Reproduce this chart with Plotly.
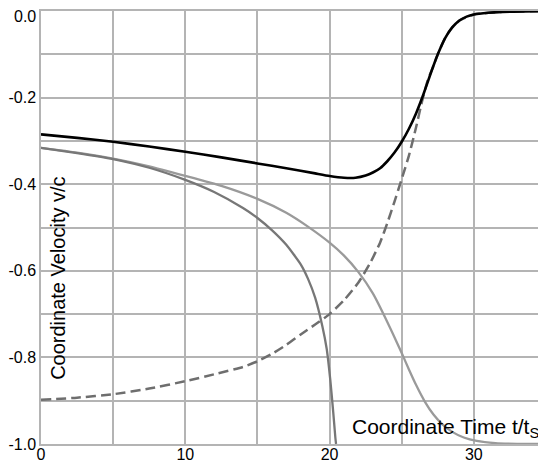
import plotly.graph_objects as go

# ---- data ----
black_t = [0, 2.5, 5, 7.5, 10, 12.5, 15, 17, 19, 20, 21, 21.8, 22.5, 23, 23.5, 24, 24.5, 25, 25.5,
           26, 26.5, 27, 27.5, 28, 28.5, 29, 29.5, 30, 31, 32, 33.5, 35]
black_v = [-0.285, -0.293, -0.302, -0.313, -0.325, -0.338, -0.352, -0.363, -0.375, -0.381, -0.385,
           -0.385, -0.380, -0.373, -0.363, -0.347, -0.327, -0.302, -0.272, -0.236, -0.193, -0.145,
           -0.100, -0.063, -0.038, -0.022, -0.013, -0.008, -0.004, -0.002, -0.001, -0.0005]

dash_t = [0, 2.5, 5, 7.5, 10, 12, 14, 15, 16, 17, 18, 19, 20, 21, 22, 22.8, 23.5, 24, 24.5, 25,
          25.5, 26, 26.4, 26.8, 27.2, 27.5, 28, 28.5, 29, 30, 32, 35]
dash_v = [-0.898, -0.893, -0.885, -0.872, -0.855, -0.839, -0.822, -0.809, -0.792, -0.771, -0.747,
          -0.724, -0.700, -0.668, -0.627, -0.583, -0.535, -0.490, -0.440, -0.388, -0.334, -0.268,
          -0.210, -0.160, -0.127, -0.100, -0.063, -0.038, -0.022, -0.008, -0.002, -0.0005]

dark_t = [0, 2.5, 5, 7.5, 10, 12, 14, 15, 16, 17, 18, 18.5, 19, 19.5, 19.8, 20.05, 20.25, 20.4,
          20.45]
dark_v = [-0.316, -0.328, -0.342, -0.362, -0.390, -0.418, -0.455, -0.478, -0.506, -0.540, -0.585,
          -0.618, -0.662, -0.728, -0.780, -0.852, -0.925, -0.985, -1.0]

light_t = [0, 2.5, 5, 7.5, 10, 12.5, 15, 17, 18.5, 20, 21, 22, 23, 24, 25, 25.5, 26, 26.6, 27.2,
           27.8, 28.5, 29.3, 30.2, 31.5, 33, 35]
light_v = [-0.316, -0.327, -0.341, -0.359, -0.381, -0.404, -0.434, -0.466, -0.498, -0.535, -0.565,
           -0.603, -0.652, -0.718, -0.790, -0.828, -0.864, -0.902, -0.932, -0.954, -0.972, -0.985,
           -0.993, -0.998, -0.9995, -1.0]

x_tickvals = [0, 10, 20, 30]
x_ticktext = ["0", "10", "20", "30"]
y_tickvals = [-1.0, -0.8, -0.6, -0.4, -0.2]
y_ticktext = ["-1.0", "-0.8", "-0.6", "-0.4", "-0.2"]
y_top_label = "0.0"   # drawn just below the top edge, as in the reference

x_title = "Coordinate Time t/t<sub>S</sub>"
y_title = "Coordinate Velocity v/c"

FONT = "Liberation Sans, Arial, sans-serif"
GRID = "#b4b4b4"

fig = go.Figure()
fig.add_trace(go.Scatter(x=dash_t, y=dash_v, mode="lines",
                         line=dict(color="#6e6e6e", width=2.5, dash="10px,5px", shape="spline", smoothing=0.5)))
fig.add_trace(go.Scatter(x=light_t, y=light_v, mode="lines",
                         line=dict(color="#9a9a9a", width=2.3, shape="spline", smoothing=0.5)))
fig.add_trace(go.Scatter(x=dark_t, y=dark_v, mode="lines",
                         line=dict(color="#777777", width=2.3, shape="spline", smoothing=0.5)))
fig.add_trace(go.Scatter(x=black_t, y=black_v, mode="lines",
                         line=dict(color="#000000", width=2.6, shape="spline", smoothing=0.5)))

axis_common = dict(showgrid=True, gridcolor=GRID, gridwidth=1.5, zeroline=False, showline=True,
                   linecolor=GRID, linewidth=1.5, mirror=True, ticks="", automargin=False,
                   tickfont=dict(size=16, family=FONT, color="black"))

# the page body has an 8px margin, so the figure is drawn 8px in from the window's top-left
fig.update_layout(
    width=538, height=454,
    margin=dict(l=33, r=0, t=3, b=18),
    paper_bgcolor="white", plot_bgcolor="white",
    showlegend=False,
    font=dict(family=FONT, size=16, color="black"),
    xaxis=dict(range=[0, 35], tickvals=x_tickvals, ticktext=x_ticktext, ticklabelstandoff=-5,
               minor=dict(dtick=5, tick0=0, showgrid=True, gridcolor=GRID, gridwidth=1.5),
               **axis_common),
    yaxis=dict(range=[-1.0, 0.0], tickvals=y_tickvals, ticktext=y_ticktext, ticklabelstandoff=0,
               minor=dict(dtick=0.1, tick0=0, showgrid=True, gridcolor=GRID, gridwidth=1.5),
               **axis_common),
    annotations=[
        dict(text=y_top_label, xref="paper", yref="paper", x=-0.005, y=0.988,
             showarrow=False, xanchor="right", yanchor="middle",
             font=dict(size=16, family=FONT, color="black")),
        dict(text=y_title, xref="paper", yref="paper", x=0.0347, y=0.3826, textangle=-90,
             showarrow=False, xanchor="center", yanchor="middle", font=dict(size=20, family=FONT)),
        dict(text=x_title, xref="paper", yref="paper", x=0.990, y=0.0376,
             showarrow=False, xanchor="right", yanchor="middle", font=dict(size=21, family=FONT)),
    ],
)

fig.write_html("out.html")
